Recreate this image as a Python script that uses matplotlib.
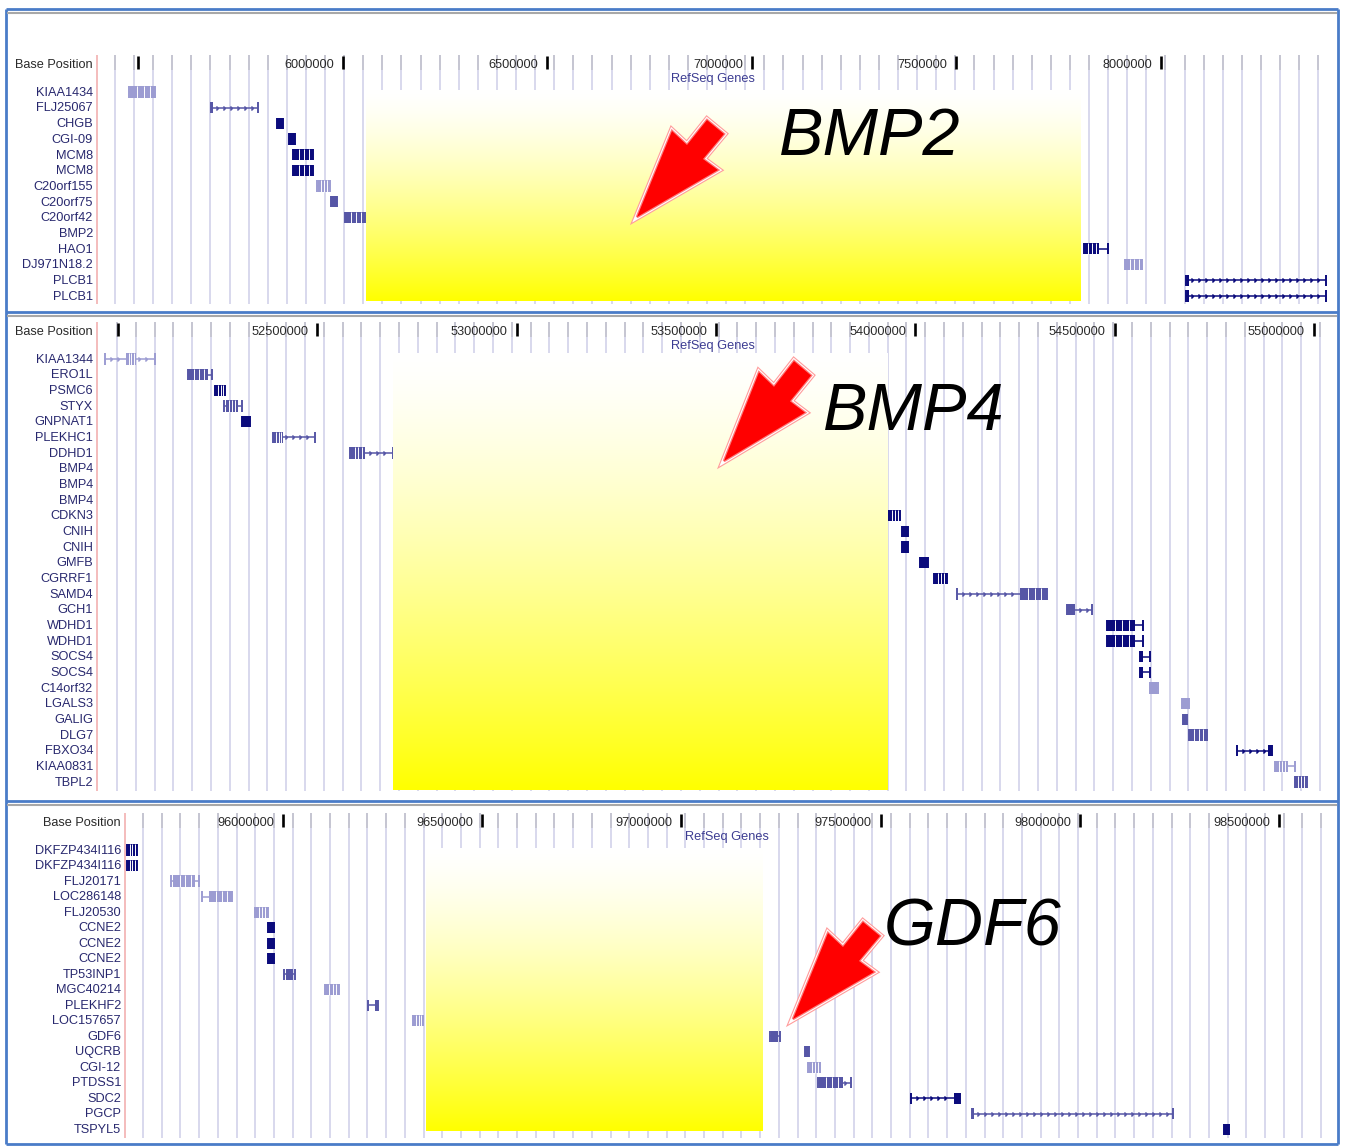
import numpy as np
import matplotlib
matplotlib.use("Agg")
import matplotlib.pyplot as plt
import matplotlib.transforms as mtransforms
import matplotlib.patheffects as pe
from matplotlib.patches import Rectangle, Polygon

plt.rcParams['font.family'] = ['Liberation Sans', 'DejaVu Sans']

W, H = 1346, 1147

# ---- panel 1 : chr20 around BMP2 ----
genes1 = ['KIAA1434', 'FLJ25067', 'CHGB', 'CGI-09', 'MCM8', 'MCM8', 'C20orf155',
          'C20orf75', 'C20orf42', 'BMP2', 'HAO1', 'DJ971N18.2', 'PLCB1', 'PLCB1']
start1 = [5476800, 5677300, 5838600, 5868000, 5877800, 5877800, 5936400,
          5970700, 6004900, 6748000, 7811700, 7912000, 8061100, 8061100]
end1 = [5540300, 5792200, 5853300, 5882600, 5926700, 5926700, 5968200,
        5985300, 6053800, 6760000, 7870400, 7953600, 8403400, 8403400]
thick_s1 = [5479000, 5677300, 5838600, 5868000, 5877800, 5877800, 5938000,
            5970700, 6004900, 6748000, 7811700, 7912000, 8063000, 8063000]
thick_e1 = [5540300, 5683000, 5853300, 5882600, 5926700, 5926700, 5966000,
            5985300, 6053800, 6760000, 7848000, 7953600, 8068000, 8068000]
shade1 = [0, 1, 2, 2, 2, 2, 0, 1, 1, 2, 2, 0, 2, 2]
ticks1 = [5500000, 6000000, 6500000, 7000000, 7500000, 8000000]
ticklabels1 = ['', '6000000', '6500000', '7000000', '7500000', '8000000']

# ---- panel 2 : chr14 around BMP4 ----
genes2 = ['KIAA1344', 'ERO1L', 'PSMC6', 'STYX', 'GNPNAT1', 'PLEKHC1', 'DDHD1',
          'BMP4', 'BMP4', 'BMP4', 'CDKN3', 'CNIH', 'CNIH', 'GMFB', 'CGRRF1',
          'SAMD4', 'GCH1', 'WDHD1', 'WDHD1', 'SOCS4', 'SOCS4', 'C14orf32',
          'LGALS3', 'GALIG', 'DLG7', 'FBXO34', 'KIAA0831', 'TBPL2']
start2 = [51967400, 52175600, 52243300, 52265800, 52311000, 52388700, 52581900,
          53480000, 53480000, 53480000, 53931200, 53966300, 53966300, 54011400,
          54046500, 54104200, 54380100, 54480400, 54480400, 54563200, 54563200,
          54588300, 54668500, 54671000, 54686100, 54806500, 54901800, 54951900]
end2 = [52092800, 52235800, 52268400, 52311000, 52331100, 52494100, 52689700,
        53490000, 53490000, 53490000, 53961300, 53981300, 53981300, 54031500,
        54079100, 54329900, 54442800, 54570700, 54570700, 54588300, 54588300,
        54608300, 54686100, 54681100, 54731200, 54894200, 54951900, 54982000]
thick_s2 = [52020000, 52176000, 52243300, 52270000, 52311000, 52390000, 52582000,
            53480000, 53480000, 53480000, 53931200, 53966300, 53966300, 54011400,
            54046500, 54262000, 54380100, 54480400, 54480400, 54563200, 54563200,
            54590000, 54668500, 54671000, 54686100, 54885000, 54901800, 54951900]
thick_e2 = [52045000, 52225000, 52268400, 52300000, 52331100, 52415000, 52620000,
            53490000, 53490000, 53490000, 53961300, 53981300, 53981300, 54031500,
            54079100, 54329900, 54400000, 54550000, 54550000, 54572000, 54572000,
            54605000, 54686100, 54681100, 54731200, 54894200, 54935000, 54982000]
shade2 = [0, 1, 2, 1, 2, 1, 1, 2, 2, 2, 2, 2, 2, 2, 2, 1, 1, 2, 2, 2, 2, 0,
          0, 1, 1, 2, 0, 1]
ticks2 = [52000000, 52500000, 53000000, 53500000, 54000000, 54500000, 55000000]
ticklabels2 = ['', '52500000', '53000000', '53500000', '54000000', '54500000', '55000000']

# ---- panel 3 : chr8 around GDF6 ----
genes3 = ['DKFZP434I116', 'DKFZP434I116', 'FLJ20171', 'LOC286148', 'FLJ20530',
          'CCNE2', 'CCNE2', 'CCNE2', 'TP53INP1', 'MGC40214', 'PLEKHF2',
          'LOC157657', 'GDF6', 'UQCRB', 'CGI-12', 'PTDSS1', 'SDC2', 'PGCP', 'TSPYL5']
start3 = [95608400, 95608400, 95718900, 95796700, 95929700, 95962400, 95962400,
          95962400, 96002500, 96105400, 96213400, 96326300, 97222400, 97310200,
          97317800, 97342900, 97576300, 97729400, 98361900]
end3 = [95633500, 95633500, 95789200, 95872000, 95962400, 95977400, 95977400,
        95977400, 96030100, 96140600, 96238500, 96351400, 97247500, 97320300,
        97347900, 97425700, 97699300, 98233900, 98374500]
thick_s3 = [95608400, 95608400, 95725000, 95815000, 95929700, 95962400, 95962400,
            95962400, 96008000, 96105400, 96230000, 96326300, 97226000, 97310200,
            97317800, 97345000, 97685000, 97729400, 98361900]
thick_e3 = [95633500, 95633500, 95780000, 95872000, 95962400, 95977400, 95977400,
            95977400, 96025000, 96140600, 96238500, 96351400, 97243000, 97320300,
            97347900, 97405000, 97699300, 97733000, 98374500]
shade3 = [2, 2, 0, 0, 0, 2, 2, 2, 1, 0, 1, 0, 1, 1, 0, 1, 2, 1, 2]
ticks3 = [96000000, 96500000, 97000000, 97500000, 98000000, 98500000]
ticklabels3 = ['96000000', '96500000', '97000000', '97500000', '98000000', '98500000']

# highlighted (yellow) regions: bp range and row range
yellow1 = (6056200, 7802000, -0.13, 13.3)
yellow2 = (52690500, 53930900, -0.38, 27.5)
yellow3 = (96358400, 97202900, -0.13, 18.1)

labels = ['BMP2', 'BMP4', 'GDF6']

shade_colors = ['#9c9cd2', '#5656a6', '#0b0b7c']
label_color = '#28286e'

fig = plt.figure(figsize=(W / 100, H / 100), dpi=100)
fig.patch.set_facecolor('white')


def px_axes(L, T, R, B):
    return fig.add_axes([L / W, 1 - B / H, (R - L) / W, (B - T) / H])


def draw_panel(ax, xlim, ylim, genes, starts, ends, ts, te, shades,
               ticks, ticklabels, yellow, grid0, gridstep, gridrows):
    ax.set_xlim(*xlim)
    ax.set_ylim(*ylim)
    ax.axis('off')
    bpp = (xlim[1] - xlim[0]) / (ax.get_position().width * W)

    # guide lines
    grid = np.arange(grid0, xlim[1] - 5 * bpp, gridstep)
    ax.vlines(grid, gridrows[0], gridrows[1], color='#d6d6ec', lw=1.3, zorder=0)
    ax.vlines(grid, gridrows[0], -1.4, color='#c4c4d0', lw=1.3, zorder=0)
    ax.vlines(xlim[0] + 0.8 * bpp, gridrows[0], gridrows[1], color='#f2b0b0', lw=1.2, zorder=1)

    # ruler
    ax.vlines(ticks, -2.3, -1.47, color='black', lw=1.9, zorder=4)
    lab_tr = mtransforms.offset_copy(ax.transData, fig, x=-9, y=0, units='dots')
    for t, lab in zip(ticks, ticklabels):
        ax.text(t, -1.75, lab, transform=lab_tr, ha='right', va='center',
                fontsize=9.2, color='#2a2a2a', zorder=4)
    left_tr = mtransforms.offset_copy(ax.get_yaxis_transform(), fig, x=-3, y=0, units='dots')
    ax.text(0, -1.75, 'Base Position', transform=left_tr, ha='right', va='center',
            fontsize=9.2, color='#2a2a2a')
    ax.text(0.5, -0.85, 'RefSeq Genes', transform=ax.get_yaxis_transform(), ha='center',
            va='center', fontsize=9.2, color='#3c3c92', zorder=4)

    # genes
    h = 0.72
    for r, (name, s, e, a, b, sh) in enumerate(zip(genes, starts, ends, ts, te, shades)):
        c = shade_colors[sh]
        ax.text(0, r + 0.05, name, transform=left_tr, ha='right', va='center',
                fontsize=9.2, color=label_color)
        ax.plot([s, e], [r, r], color=c, lw=1.1, zorder=2, solid_capstyle='butt')
        ax.vlines([s, e], r - h / 2, r + h / 2, color=c, lw=1.4, zorder=2)
        ax.add_patch(Rectangle((a, r - h / 2), max(b - a, 2 * bpp), h, color=c, lw=0, zorder=2))
        wpx = (b - a) / bpp
        if wpx > 9:
            gaps = a + (b - a) * np.array([0.3, 0.55, 0.8])
            ax.vlines(gaps, r - h / 2, r + h / 2, color='white', lw=0.7, zorder=2.5)
        # intron chevrons
        step = 7 * bpp
        xs = np.arange(s + step, e - step / 2, step)
        xs = xs[(xs < a - 2 * bpp) | (xs > b + 2 * bpp)]
        if len(xs):
            ax.plot(xs, [r] * len(xs), ls='none', marker=5, ms=2.4, color=c, zorder=2)

    # yellow highlight
    x0, x1, y0, y1 = yellow
    t = np.linspace(0, 1, 256)[:, None]
    blue = 1 - t ** 1.4
    img = np.dstack([np.ones_like(t), np.ones_like(t), blue])
    ax.imshow(img, extent=(x0, x1, y1, y0), aspect='auto', zorder=3, interpolation='bilinear')
    ax.set_xlim(*xlim)
    ax.set_ylim(*ylim)


ax1 = px_axes(96, 52, 1330, 305)
draw_panel(ax1, (5396100, 8413200), (13.58, -2.55), genes1, start1, end1,
           thick_s1, thick_e1, shade1, ticks1, ticklabels1, yellow1,
           5442500, 46700, (-2.36, 13.5))

ax2 = px_axes(96, 320, 1330, 793)
draw_panel(ax2, (51944800, 55040100), (27.7, -2.49), genes2, start2, end2,
           thick_s2, thick_e2, shade2, ticks2, ticklabels2, yellow2,
           51997500, 47150, (-2.36, 27.6))

ax3 = px_axes(124, 811, 1330, 1140)
draw_panel(ax3, (95600900, 98628000), (18.7, -2.52), genes3, start3, end3,
           thick_s3, thick_e3, shade3, ticks3, ticklabels3, yellow3,
           95648600, 46940, (-2.39, 18.6))

# overlay in pixel coordinates for frames, arrows and big labels
ov = fig.add_axes([0, 0, 1, 1], zorder=10)
ov.set_xlim(0, W)
ov.set_ylim(H, 0)
ov.axis('off')
ov.patch.set_alpha(0)

blue_c = '#4a7cc8'
ov.vlines([6, 1338], 9, 1144, color=blue_c, lw=2)
ov.hlines([9, 312, 801, 1144], 6, 1338, color=blue_c, lw=2)
ov.hlines([13, 316, 805], 7, 1337, color='#a8a8a8', lw=1.5)

arrow_shape = np.array([(0, 0), (35, -86), (50, -72), (70, -97), (87, -83),
                        (66, -58), (81, -47)], dtype=float)
arrow_tips = [(637, 217, 1.0, 1.0), (724, 461, 1.0, 1.03), (793, 1019, 1.0, 1.0)]
for tx, ty, sx, sy in arrow_tips:
    pts = arrow_shape * [sx, sy] + [tx, ty]
    poly = Polygon(pts, closed=True, facecolor='#ff0000', edgecolor='none', zorder=5)
    poly.set_path_effects([pe.Stroke(linewidth=5, foreground='#ff9c9c'),
                           pe.Stroke(linewidth=3.4, foreground='white'),
                           pe.Stroke(linewidth=1.8, foreground='#ff7a7a'),
                           pe.Normal()])
    ov.add_patch(poly)

label_pos = [(779, 155), (823, 430), (884, 946)]
for (lx, ly), txt in zip(label_pos, labels):
    ov.text(lx, ly, txt, fontsize=48, style='italic', color='black',
            ha='left', va='baseline', zorder=6)

fig.savefig('out.png', dpi=100, facecolor='white')
